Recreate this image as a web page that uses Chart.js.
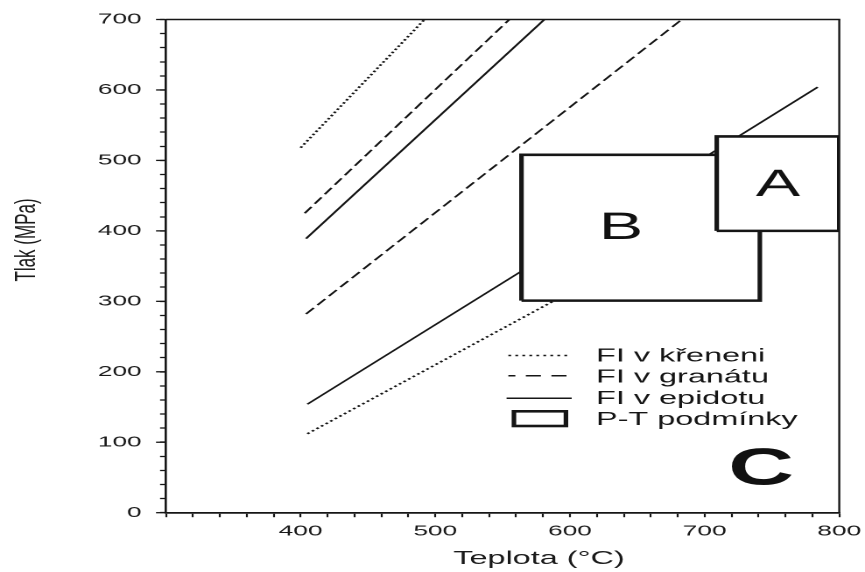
<!DOCTYPE html>
<html>
<head>
<meta charset="utf-8">
<script src="https://cdn.jsdelivr.net/npm/chart.js@4.4.1/dist/chart.umd.min.js"></script>
<style>
  html, body { margin: 0; padding: 0; background: #fff; overflow: hidden; }
  /* the figure is laid out narrow and widened horizontally */
  #wrap { position: absolute; left: 0; top: 0; width: 494px; height: 572px;
          transform: scaleX(1.751); transform-origin: 0 0; }
</style>
</head>
<body>
<div id="wrap"><canvas id="c"></canvas></div>
<script>
// Series names
const seriesNames = ['FI v křeneni', 'FI v granátu', 'FI v epidotu', 'P-T podmínky'];

// FI v křeneni (dotted): end points, temperature °C / pressure MPa
const kreneniT1 = [400, 492], kreneniP1 = [518, 700];
const kreneniT2 = [405, 600], kreneniP2 = [112, 313];
// FI v granátu (dashed)
const granatT1 = [403, 555], granatP1 = [425, 700];
const granatT2 = [404, 683], granatP2 = [282, 700];
// FI v epidotu (solid)
const epidotT1 = [404, 581], epidotP1 = [389, 700];
const epidotT2 = [405, 784], epidotP2 = [154, 604];

// P-T podmínky: temperature and pressure ranges of the two fields
const boxLabels = ['A', 'B'];
const boxAT = [709, 800], boxAP = [400, 534];
const boxBT = [564, 741], boxBP = [301, 508];
const panelLabel = 'C';

// Axis tick labels
const temperatureTicks = [400, 500, 600, 700, 800];
const pressureTicks = [0, 100, 200, 300, 400, 500, 600, 700];
const xTitle = 'Teplota (°C)';
const yTitle = 'Tlak (MPa)';

const ink = '#161616';
const FONT = '"Liberation Sans", Arial, Helvetica, sans-serif';

const seg = (T, P) => T.map((t, i) => ({ x: t, y: P[i] }));
const rect = (T, P) => [
  { x: T[0], y: P[0] }, { x: T[1], y: P[0] }, { x: T[1], y: P[1] },
  { x: T[0], y: P[1] }, { x: T[0], y: P[0] }
];

const DOT = [1.6, 2.0];
const DASH = [7.5, 3.6];

function lineSet(label, data, dash) {
  return {
    label, data, showLine: true, pointRadius: 0, borderColor: ink,
    borderWidth: dash === DOT ? 1.6 : 1.4, borderDash: dash, borderCapStyle: 'butt', fill: false, tension: 0
  };
}
function boxSet(label, data) {
  return {
    label, data, showLine: true, pointRadius: 0, borderColor: ink,
    backgroundColor: '#ffffff', borderWidth: 2.6, borderJoinStyle: 'miter',
    fill: 'shape', tension: 0
  };
}

// Titles, frame, legend and field letters
const decor = {
  id: 'decor',
  afterDraw(chart) {
    const { ctx, chartArea: a, scales: { x, y } } = chart;
    ctx.save();
    ctx.strokeStyle = ink;
    ctx.lineCap = 'butt';
    // top and right frame
    ctx.lineWidth = 1.5;
    ctx.beginPath(); ctx.moveTo(a.left, a.top); ctx.lineTo(a.right + 0.6, a.top); ctx.stroke();
    ctx.lineWidth = 1.2;
    ctx.beginPath(); ctx.moveTo(a.right, a.top); ctx.lineTo(a.right, a.bottom); ctx.stroke();
    // longer marks at labelled pressures
    ctx.lineWidth = 1.3;
    pressureTicks.forEach(p => {
      const py = y.getPixelForValue(p);
      ctx.beginPath(); ctx.moveTo(a.left - 5.7, py); ctx.lineTo(a.left, py); ctx.stroke();
    });

    // axis titles
    ctx.fillStyle = '#1a1a1a';
    ctx.textAlign = 'center';
    ctx.textBaseline = 'middle';
    ctx.font = '18.5px ' + FONT;
    ctx.fillText(xTitle, a.left + 213, a.bottom + 46.3);
    ctx.save();
    ctx.translate(20, 240);
    ctx.rotate(-Math.PI / 2);
    ctx.textBaseline = 'alphabetic';
    ctx.font = '17px ' + FONT;
    ctx.fillText(yTitle, 0, 0);
    ctx.restore();

    // field letters
    ctx.fillStyle = '#111';
    ctx.font = '38px ' + FONT;
    ctx.fillText(boxLabels[0], x.getPixelForValue((boxAT[0] + boxAT[1]) / 2), y.getPixelForValue((boxAP[0] + boxAP[1]) / 2) + 1.8);
    ctx.fillText(boxLabels[1], x.getPixelForValue(638), y.getPixelForValue(406) + 1.8);
    ctx.font = 'bold 52px ' + FONT;
    ctx.fillText(panelLabel, x.getPixelForValue(742), y.getPixelForValue(64) + 2.5);

    // legend
    const lx0 = 290.3, lx1 = 325.5, tx = 340.4;
    const rows = [355.5, 376.6, 397.8, 419];
    ctx.lineWidth = 1.6;
    ctx.setLineDash([1.6, 2.4]);
    ctx.beginPath(); ctx.moveTo(lx0, rows[0]); ctx.lineTo(lx1, rows[0]); ctx.stroke();
    ctx.lineWidth = 1.5;
    ctx.setLineDash([8.6, 6]);
    ctx.lineDashOffset = 4.6;
    ctx.beginPath(); ctx.moveTo(lx0, rows[1] - 0.8); ctx.lineTo(lx1, rows[1] - 0.8); ctx.stroke();
    ctx.setLineDash([]);
    ctx.lineDashOffset = 0;
    ctx.beginPath(); ctx.moveTo(lx0 - 1, rows[2] + 0.5); ctx.lineTo(lx1 + 1, rows[2] + 0.5); ctx.stroke();
    ctx.lineWidth = 2.6;
    ctx.lineJoin = 'miter';
    ctx.strokeRect(293.5, 411.3, 29.7, 14.7);

    ctx.fillStyle = '#151515';
    ctx.textAlign = 'left';
    ctx.textBaseline = 'middle';
    ctx.font = '18.5px ' + FONT;
    seriesNames.forEach((s, i) => ctx.fillText(s, tx, rows[i] + 0.9));
    ctx.restore();
  }
};

new Chart(document.getElementById('c'), {
  type: 'scatter',
  data: {
    datasets: [
      boxSet(boxLabels[0], rect(boxAT, boxAP)),
      boxSet(boxLabels[1], rect(boxBT, boxBP)),
      lineSet(seriesNames[0], seg(kreneniT1, kreneniP1), DOT),
      lineSet(seriesNames[0], seg(kreneniT2, kreneniP2), DOT),
      lineSet(seriesNames[1], seg(granatT1, granatP1), DASH),
      lineSet(seriesNames[1], seg(granatT2, granatP2), DASH),
      lineSet(seriesNames[2], seg(epidotT1, epidotP1), []),
      lineSet(seriesNames[2], seg(epidotT2, epidotP2), [])
    ]
  },
  options: {
    responsive: true,
    maintainAspectRatio: false,
    devicePixelRatio: 2,
    animation: false,
    events: [],
    layout: { autoPadding: false, padding: { left: 0, right: 14.7, top: 19.5, bottom: 0 } },
    plugins: { legend: { display: false }, tooltip: { enabled: false } },
    scales: {
      x: {
        type: 'linear', min: 300, max: 800,
        afterFit: s => { s.height = 59.3; s.paddingLeft = 0; s.paddingRight = 0; },
        ticks: {
          stepSize: 20, autoSkip: false, maxRotation: 0, padding: 5.1,
          color: '#1a1a1a', font: { size: 15, family: FONT },
          callback: v => temperatureTicks.includes(v) ? String(v) : ''
        },
        grid: { drawOnChartArea: false, drawTicks: true, tickLength: 4.5, tickWidth: 1.1, tickColor: ink },
        border: { display: true, width: 1.8, color: ink }
      },
      y: {
        type: 'linear', min: 0, max: 700,
        afterFit: s => { s.width = 94.8; s.paddingTop = 0; s.paddingBottom = 0; },
        ticks: {
          stepSize: 20, autoSkip: false, padding: 10.5,
          color: '#1a1a1a', font: { size: 15, family: FONT },
          callback: v => pressureTicks.includes(v) ? String(v) : ''
        },
        grid: { drawOnChartArea: false, drawTicks: true, tickLength: 3.4, tickWidth: 1.3, tickColor: ink },
        border: { display: true, width: 1.3, color: ink }
      }
    }
  },
  plugins: [decor]
});
</script>
</body>
</html>
